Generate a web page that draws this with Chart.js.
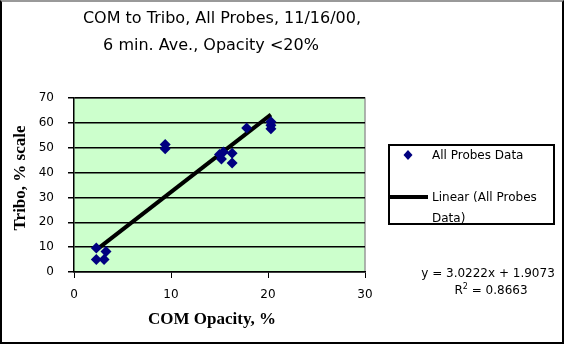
<!DOCTYPE html>
<html>
<head>
<meta charset="utf-8">
<script src="https://cdn.jsdelivr.net/npm/chart.js@4"></script>
<style>
  body { margin: 0; background: #fff; }
  #wrap { position: relative; width: 567px; height: 348px; overflow: hidden; }
  #frame { position: absolute; left: 0; top: 0; width: 560px; height: 340px; border: 2px solid #000; border-top-color: #999; }
  .t { position: absolute; white-space: nowrap; font-family: "DejaVu Sans", sans-serif; color: #000; }
  .title { font-size: 16px; transform: translateX(-50%); }
  .axt { font-family: "Liberation Serif", serif; font-weight: bold; font-size: 17px; }
  #legend { position: absolute; left: 388px; top: 144px; width: 163px; height: 77px; border: 2px solid #000; }
  .lg { font-size: 12px; }
</style>
</head>
<body>
<div id="wrap">
  <canvas id="c" width="567" height="348"></canvas>
  <div id="frame"></div>
  <div class="t title" style="left:222px; top:8px;">COM to Tribo, All Probes, 11/16/00,</div>
  <div class="t title" style="left:211px; top:35px;">6 min. Ave., Opacity &lt;20%</div>
  <div class="t axt" style="left:20px; top:178px; transform: translate(-50%,-50%) rotate(-90deg);">Tribo, % scale</div>
  <div class="t axt" style="left:212px; top:319px; transform: translate(-50%,-50%);">COM Opacity, %</div>
  <div id="legend">
    <div class="t lg" style="left:42px; top:2px;">All Probes Data</div>
    <div class="t lg" style="left:42px; top:44px;">Linear (All Probes</div>
    <div class="t lg" style="left:42px; top:65px;">Data)</div>
  </div>
  <div class="t lg" style="left:488px; top:266px; transform: translateX(-50%);">y = 3.0222x + 1.9073</div>
  <div class="t lg" style="left:491px; top:282px; transform: translateX(-50%);">R<sup style="font-size:8px;">2</sup> = 0.8663</div>
</div>
<script>
// scatter points
const comX = [2.3, 2.3, 3.1, 3.3, 9.4, 9.4, 15.0, 15.2, 15.4, 16.3, 16.3, 17.8, 20.3, 20.3, 20.3];
const triboY = [9.7, 5.0, 5.0, 8.2, 51.3, 49.6, 47.3, 45.5, 48.3, 47.8, 43.9, 57.9, 60.4, 59.0, 57.6];
// trend line endpoints (Linear fit as drawn)
const trendX = [2.3, 20.3];
const trendY = [8.9, 63.3];
const xTicks = [0, 10, 20, 30];
const yTicks = [0, 10, 20, 30, 40, 50, 60, 70];

const pts = comX.map((x, i) => ({ x, y: triboY[i] }));
const trend = trendX.map((x, i) => ({ x, y: trendY[i] }));

const plotBg = {
  id: "plotBg",
  beforeDraw(chart) {
    const { ctx, chartArea: a } = chart;
    ctx.save();
    ctx.fillStyle = "#ccffcc";
    ctx.fillRect(a.left, a.top, a.right - a.left, a.bottom - a.top);
    ctx.strokeStyle = "#999";
    ctx.lineWidth = 1.5;
    ctx.beginPath();
    ctx.moveTo(a.left, a.top);
    ctx.lineTo(a.right, a.top);
    ctx.lineTo(a.right, a.bottom);
    ctx.stroke();
    ctx.restore();
  },
};

// legend diamond + line sample drawn next to the html legend text
const legendMarks = {
  id: "legendMarks",
  afterDraw(chart) {
    const ctx = chart.ctx;
    ctx.save();
    ctx.fillStyle = "#000080";
    ctx.beginPath();
    ctx.moveTo(408, 150);
    ctx.lineTo(412.5, 155);
    ctx.lineTo(408, 160);
    ctx.lineTo(403.5, 155);
    ctx.closePath();
    ctx.fill();
    ctx.strokeStyle = "#000";
    ctx.lineWidth = 4;
    ctx.beginPath();
    ctx.moveTo(390, 197);
    ctx.lineTo(428, 197);
    ctx.stroke();
    ctx.restore();
  },
};

new Chart(document.getElementById("c"), {
  type: "scatter",
  data: {
    datasets: [
      {
        label: "All Probes Data",
        data: pts,
        pointStyle: "rectRot",
        pointRadius: 5.5,
        backgroundColor: "#000080",
        borderColor: "#000080",
        borderWidth: 0,
      },
      {
        label: "Linear (All Probes Data)",
        data: trend,
        showLine: true,
        pointRadius: 0,
        borderColor: "#000",
        borderWidth: 4,
      },
    ],
  },
  options: {
    responsive: false,
    animation: false,
    devicePixelRatio: 1,
    layout: { padding: { left: 0, top: 98, right: 202, bottom: 0 } },
    plugins: { legend: { display: false }, tooltip: { enabled: false } },
    scales: {
      x: {
        type: "linear",
        min: 0,
        max: 30,
        afterBuildTicks: (s) => { s.ticks = xTicks.map((v) => ({ value: v })); },
        afterFit: (s) => { s.height = 76; },
        ticks: { color: "#000", padding: 10, font: { family: "DejaVu Sans", size: 12 } },
        grid: { drawOnChartArea: false, tickLength: 6, color: "#000" },
        border: { color: "#000", width: 1.5 },
      },
      y: {
        min: 0,
        max: 70,
        afterBuildTicks: (s) => { s.ticks = yTicks.map((v) => ({ value: v })); },
        afterFit: (s) => { s.width = 74; },
        ticks: { color: "#000", padding: 14, font: { family: "DejaVu Sans", size: 12 } },
        grid: { color: "#000", lineWidth: 1.5, tickLength: 6 },
        border: { color: "#000", width: 1.5 },
      },
    },
  },
  plugins: [plotBg, legendMarks],
});
</script>
</body>
</html>
